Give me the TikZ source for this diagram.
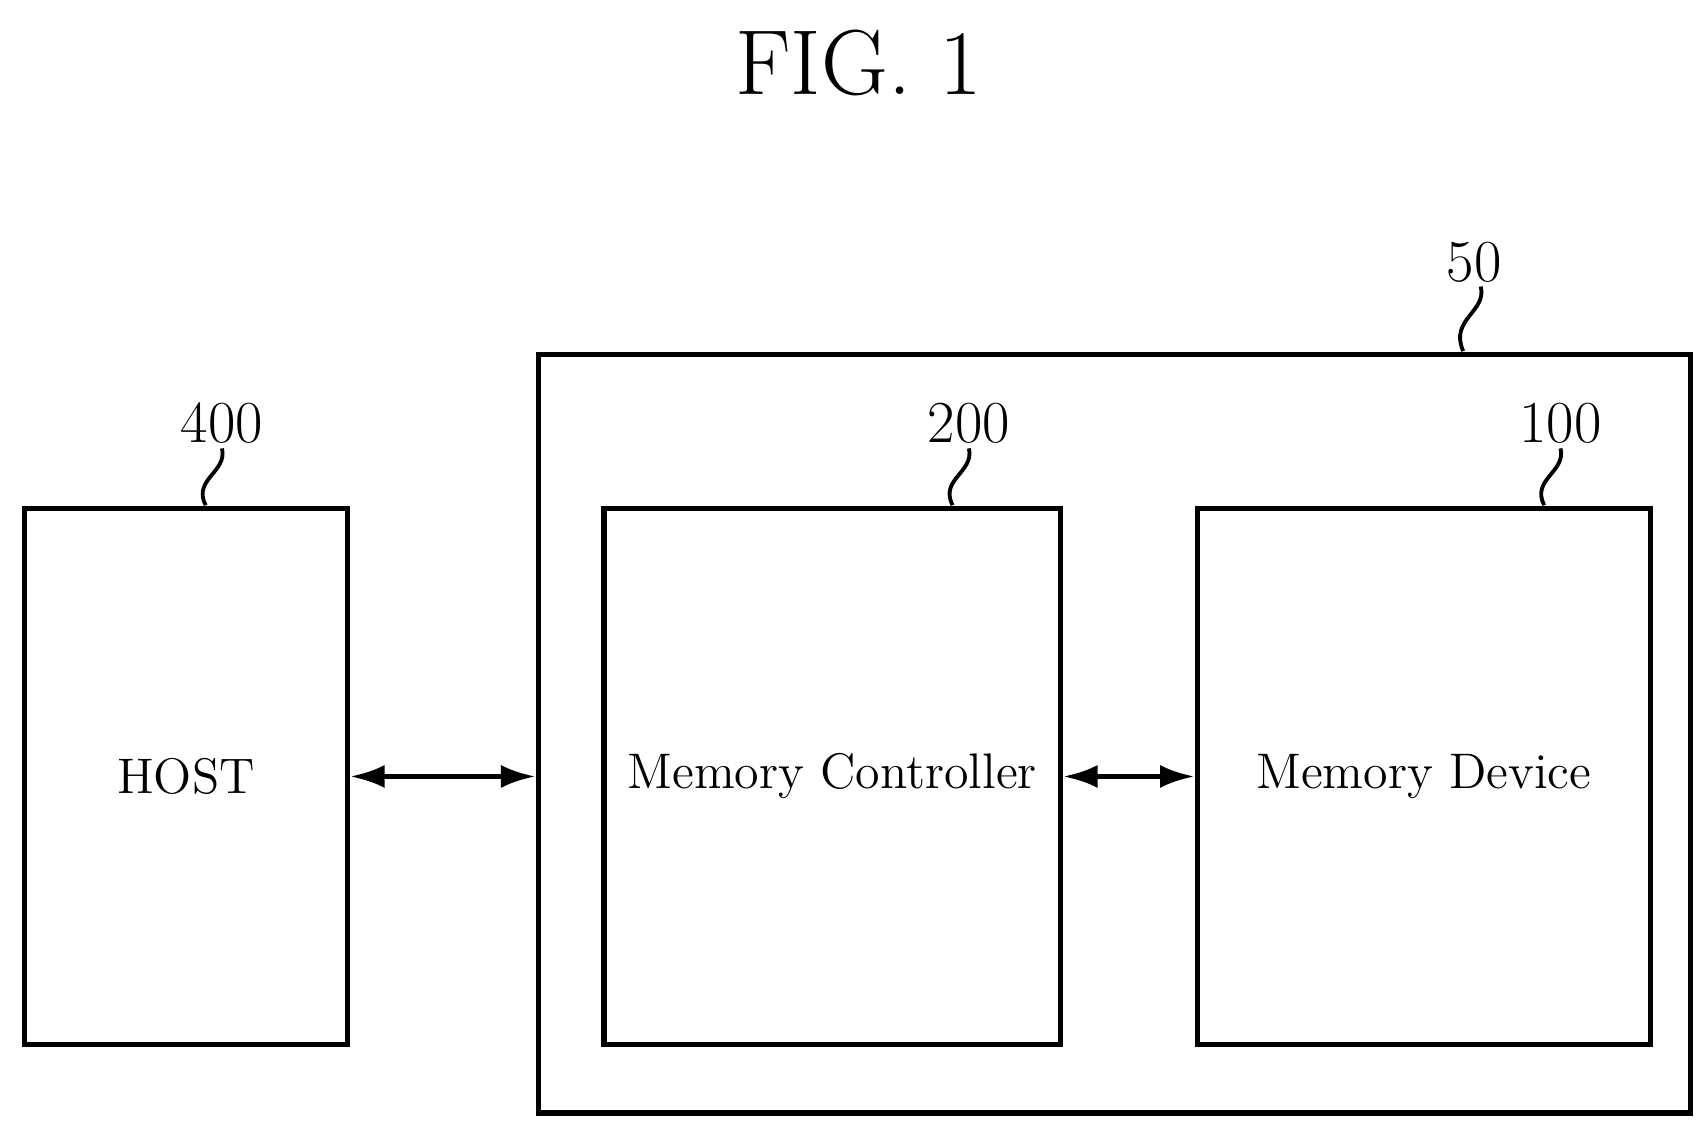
\documentclass[tikz,border=0pt]{standalone}
\usetikzlibrary{arrows.meta}
\begin{document}
\begin{tikzpicture}[x=0.01cm,y=-0.01cm,
    blk/.style={draw,line width=1.4pt,inner sep=0pt},
    lbl/.style={font=\fontsize{15.5}{18}\selectfont},
    txt/.style={font=\fontsize{13}{16}\selectfont},
    lead/.style={line width=1pt},
    link/.style={line width=1.4pt,{Latex[length=9pt,width=6pt]}-{Latex[length=9pt,width=6pt]}}]
  \useasboundingbox (0,0) rectangle (1560,1035);
  \node[font=\fontsize{24}{28}\selectfont] (title) at (785,58) {FIG. 1};

  % outer system
  \node[blk,minimum width=10.53cm,minimum height=6.93cm] (sys) at (1019,671) {};
  \node[lbl] (sysno) at (1348,240) {50};
  \draw[lead] (1354,262) .. controls (1360,285) and (1325,292) .. (1338,321);

  % blocks
  \node[blk,txt,minimum width=2.95cm,minimum height=4.9cm] (host) at (170,710) {HOST};
  \node[blk,txt,minimum width=4.17cm,minimum height=4.9cm] (ctrl) at (761,710) {Memory Controller};
  \node[blk,txt,minimum width=4.14cm,minimum height=4.9cm] (dev) at (1302,710) {Memory Device};

  \node[lbl] (hostno) at (203,387) {400};
  \node[lbl] (ctrlno) at (886,387) {200};
  \node[lbl] (devno) at (1427,387) {100};
  \draw[lead] (203,410) .. controls (208,432) and (176,438) .. (188,462);
  \draw[lead] (886,410) .. controls (891,432) and (859,438) .. (871,462);
  \draw[lead] (1427,410) .. controls (1432,432) and (1400,438) .. (1412,462);

  % links
  \draw[link] (host.east) -- (sys.west |- host.east);
  \draw[link] (ctrl.east) -- (dev.west);
\end{tikzpicture}
\end{document}
